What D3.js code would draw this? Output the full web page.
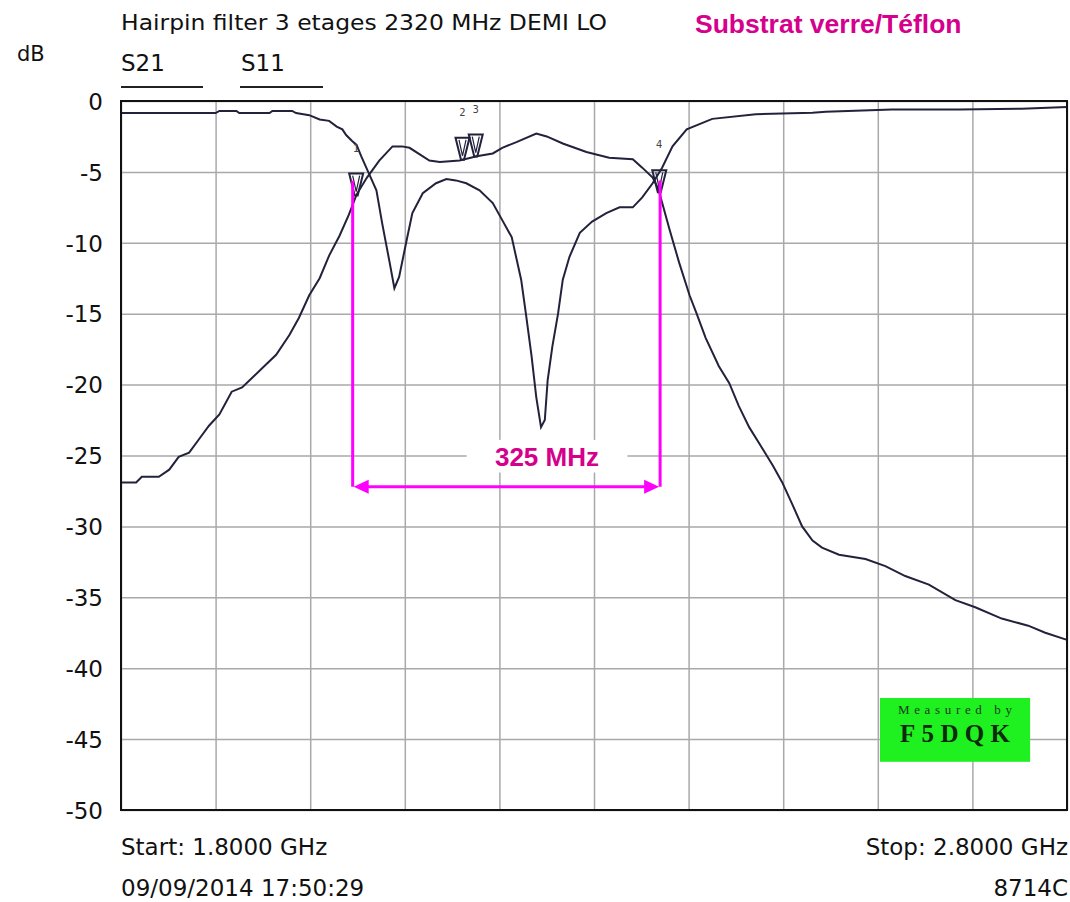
<!DOCTYPE html>
<html>
<head>
<meta charset="utf-8">
<script src="https://cdn.jsdelivr.net/npm/d3@7"></script>
<style>
  html, body { margin: 0; padding: 0; background: #fff; }
  svg { display: block; }
</style>
</head>
<body>
<script>
// Sweep: 1.8 – 2.8 GHz, 0 to -50 dB
const freqTicks = [1.8, 1.9, 2.0, 2.1, 2.2, 2.3, 2.4, 2.5, 2.6, 2.7, 2.8];
const dbTicks = [0, -5, -10, -15, -20, -25, -30, -35, -40, -45, -50];

// S21 (transmission) trace, GHz / dB
const s21Freq = [1.800, 1.816, 1.822, 1.840, 1.851, 1.861, 1.872, 1.883, 1.893, 1.904, 1.917, 1.928, 1.939, 1.953, 1.964, 1.978, 1.988, 1.999, 2.010, 2.020, 2.031, 2.041, 2.049, 2.060, 2.073, 2.087, 2.097, 2.105, 2.126, 2.137, 2.158, 2.176, 2.193, 2.203, 2.218, 2.239, 2.250, 2.267, 2.292, 2.316, 2.341, 2.351, 2.362, 2.368, 2.380, 2.390, 2.401, 2.408, 2.418, 2.432, 2.443, 2.453, 2.464, 2.478, 2.489, 2.499, 2.510, 2.520, 2.531, 2.541, 2.559, 2.587, 2.608, 2.629, 2.654, 2.682, 2.703, 2.731, 2.759, 2.777, 2.800];
const s21Db = [-26.9, -26.9, -26.5, -26.5, -26.0, -25.1, -24.8, -23.8, -22.9, -22.1, -20.5, -20.2, -19.5, -18.6, -17.9, -16.5, -15.3, -13.7, -12.5, -10.9, -9.5, -8.0, -6.6, -5.4, -4.2, -3.2, -3.2, -3.3, -4.2, -4.3, -4.2, -3.9, -3.7, -3.3, -2.9, -2.3, -2.5, -3.0, -3.6, -4.0, -4.1, -4.7, -5.4, -6.2, -9.1, -11.4, -13.7, -14.9, -16.7, -18.7, -19.9, -21.5, -23.0, -24.5, -25.7, -26.9, -28.5, -30.0, -31.0, -31.5, -32.0, -32.3, -32.8, -33.5, -34.1, -35.2, -35.7, -36.5, -37.0, -37.5, -38.0];

// S11 (reflection) trace, GHz / dB
const s11Freq = [1.800, 1.900, 1.904, 1.922, 1.925, 1.957, 1.960, 1.981, 1.985, 1.999, 2.010, 2.020, 2.028, 2.034, 2.038, 2.044, 2.049, 2.054, 2.062, 2.070, 2.076, 2.084, 2.089, 2.094, 2.102, 2.108, 2.119, 2.133, 2.144, 2.154, 2.165, 2.179, 2.193, 2.203, 2.213, 2.223, 2.228, 2.234, 2.239, 2.244, 2.248, 2.251, 2.256, 2.262, 2.267, 2.274, 2.285, 2.298, 2.313, 2.327, 2.341, 2.351, 2.362, 2.372, 2.383, 2.398, 2.425, 2.471, 2.531, 2.545, 2.615, 2.686, 2.752, 2.800];
const s11Db = [-0.85, -0.85, -0.7, -0.7, -0.85, -0.85, -0.7, -0.7, -0.85, -1.0, -1.3, -1.4, -1.8, -2.0, -2.4, -2.8, -3.1, -3.9, -5.1, -6.3, -8.6, -11.4, -13.2, -12.4, -9.8, -7.9, -6.5, -5.8, -5.5, -5.6, -5.8, -6.3, -7.2, -8.4, -9.6, -12.6, -15.0, -18.0, -20.9, -23.0, -22.5, -19.7, -17.3, -15.0, -12.6, -11.0, -9.3, -8.5, -7.9, -7.5, -7.5, -6.8, -5.8, -4.7, -3.2, -2.0, -1.26, -0.93, -0.83, -0.75, -0.6, -0.6, -0.55, -0.43];

// Markers placed on the S21 trace
const markerIds = ["1", "2", "3", "4"];
const markerFreq = [2.0486, 2.161, 2.175, 2.369];

// -3 dB bandwidth annotation
const bwStart = 2.0449;
const bwWidthMHz = 325;
const bwLabelFreq = 2.2503;

const W = 1070, H = 902;
const svg = d3.select("body").append("svg").attr("width", W).attr("height", H);

const plotL = 121, plotR = 1067, plotT = 101, plotB = 810;
const x = d3.scaleLinear().domain([1.8, 2.8]).range([plotL, plotR]);
const y = d3.scaleLinear().domain([-50, 0]).range([plotB, plotT]);

const FONT = "'DejaVu Sans', sans-serif";
const traceColor = "#22223c";
const gridColor = "#a9a9a9";

// grid: horizontal lines with dB labels
const yAxis = d3.axisLeft(y).tickValues(dbTicks).tickSize(-(plotR - plotL)).tickPadding(18)
  .tickFormat(d => String(d));
const gy = svg.append("g").attr("transform", `translate(${plotL},0)`).call(yAxis);
gy.select(".domain").remove();
gy.selectAll(".tick line").attr("stroke", gridColor).attr("stroke-width", 1.5);
gy.selectAll(".tick text").attr("font-family", FONT).attr("font-size", 23).attr("fill", "#111")
  .attr("dy", "0.36em");

// grid: vertical lines at every 100 MHz
const xAxis = d3.axisBottom(x).tickValues(freqTicks).tickSize(-(plotB - plotT)).tickFormat("");
const gx = svg.append("g").attr("transform", `translate(0,${plotB})`).call(xAxis);
gx.select(".domain").remove();
gx.selectAll(".tick line").attr("stroke", gridColor).attr("stroke-width", 1.5);

// bandwidth label box (breaks the grid line behind it)
const bwEnd = bwStart + bwWidthMHz / 1000;
svg.append("rect")
  .attr("x", x(bwLabelFreq - 0.085)).attr("y", y(-23.9))
  .attr("width", x(bwLabelFreq + 0.085) - x(bwLabelFreq - 0.085)).attr("height", y(-26.2) - y(-23.9))
  .attr("fill", "#fff");

// "Measured by" badge
const badge = svg.append("g");
badge.append("rect")
  .attr("x", x(2.6023)).attr("y", y(-42.1))
  .attr("width", x(2.7610) - x(2.6023)).attr("height", y(-46.6) - y(-42.1))
  .attr("fill", "#1ff01f");
badge.append("text").attr("x", x(2.6816)).attr("y", y(-43.2))
  .attr("text-anchor", "middle").attr("font-family", "'Liberation Serif', serif")
  .attr("font-size", 13).attr("fill", "#1a3a1a")
  .attr("textLength", 114).attr("lengthAdjust", "spacing")
  .text("Measured by");
badge.append("text").attr("x", x(2.6816)).attr("y", y(-45.2))
  .attr("text-anchor", "middle").attr("font-family", "'Liberation Serif', serif")
  .attr("font-weight", "bold").attr("font-size", 25).attr("fill", "#0d2a0d")
  .attr("textLength", 110).attr("lengthAdjust", "spacing")
  .text("F5DQK");

// traces
const line = d3.line().x(d => x(d[0])).y(d => y(d[1]));
const s21 = s21Freq.map((f, i) => [f, s21Db[i]]);
const s11 = s11Freq.map((f, i) => [f, s11Db[i]]);
svg.append("path").datum(s11).attr("d", line)
  .attr("fill", "none").attr("stroke", traceColor).attr("stroke-width", 2);
svg.append("path").datum(s21).attr("d", line)
  .attr("fill", "none").attr("stroke", traceColor).attr("stroke-width", 2);

// markers on S21
const s21At = f => {
  const i = d3.bisectLeft(s21Freq, f);
  if (i <= 0) return s21Db[0];
  const f0 = s21Freq[i - 1], f1 = s21Freq[i];
  const t = (f - f0) / (f1 - f0);
  return s21Db[i - 1] + t * (s21Db[i] - s21Db[i - 1]);
};
markerIds.forEach((id, i) => {
  const mx = x(markerFreq[i]), my = y(s21At(markerFreq[i]));
  const g = svg.append("g").attr("transform", `translate(${mx},${my})`);
  g.append("path").attr("d", "M-7,-22 L7,-22 L1.5,0 L-1.5,0 Z")
    .attr("fill", "none").attr("stroke", traceColor).attr("stroke-width", 2);
  g.append("path").attr("d", "M-3.5,-20 L0,-4 L3.5,-20")
    .attr("fill", "none").attr("stroke", traceColor).attr("stroke-width", 1.2);
  g.append("text").attr("x", 0).attr("y", -44).attr("text-anchor", "middle")
    .attr("font-family", FONT).attr("font-size", 10).attr("fill", "#444")
    .text(id);
});

// frame
svg.append("rect").attr("x", plotL).attr("y", plotT)
  .attr("width", plotR - plotL).attr("height", plotB - plotT)
  .attr("fill", "none").attr("stroke", "#111").attr("stroke-width", 2);

// bandwidth annotation
const mag = "#ff00ff";
const arrowDb = -27.2, lineTopDb = -5.6;
const ax0 = x(bwStart), ax1 = x(bwEnd), ay = y(arrowDb);
svg.append("line").attr("x1", ax0).attr("x2", ax0).attr("y1", y(lineTopDb)).attr("y2", ay)
  .attr("stroke", mag).attr("stroke-width", 3);
svg.append("line").attr("x1", ax1).attr("x2", ax1).attr("y1", y(lineTopDb)).attr("y2", ay)
  .attr("stroke", mag).attr("stroke-width", 3);
svg.append("line").attr("x1", ax0 + 6).attr("x2", ax1 - 6).attr("y1", ay).attr("y2", ay)
  .attr("stroke", mag).attr("stroke-width", 3);
svg.append("path").attr("d", `M${ax0 + 1},${ay} L${ax0 + 16},${ay - 7} L${ax0 + 16},${ay + 7} Z`).attr("fill", mag);
svg.append("path").attr("d", `M${ax1 - 1},${ay} L${ax1 - 16},${ay - 7} L${ax1 - 16},${ay + 7} Z`).attr("fill", mag);
svg.append("text").attr("x", x(bwLabelFreq)).attr("y", y(-25) + 10)
  .attr("text-anchor", "middle").attr("font-family", "'Liberation Sans', Arial, sans-serif")
  .attr("font-weight", "bold").attr("font-size", 26).attr("fill", "#d5008c")
  .text(`${bwWidthMHz} MHz`);

// headings and legend
const txt = (s, tx, ty, opts = {}) => {
  const t = svg.append("text").attr("x", tx).attr("y", ty)
    .attr("font-family", opts.family || FONT).attr("font-size", opts.size || 23)
    .attr("font-weight", opts.weight || "normal")
    .attr("fill", opts.fill || "#111").attr("text-anchor", opts.anchor || "start").text(s);
  if (opts.len) t.attr("textLength", opts.len).attr("lengthAdjust", "spacingAndGlyphs");
  return t;
};

txt("Hairpin filter 3 etages 2320 MHz DEMI LO", 121, 30, { size: 22, len: 486 });
txt("Substrat verre/Téflon", 695, 33, { family: "'Liberation Sans', Arial, sans-serif", weight: "bold", size: 26.5, fill: "#d5008c" });
txt("dB", 17, 61, { size: 21 });
txt("S21", 121, 71);
txt("S11", 241, 71);
svg.append("line").attr("x1", 121).attr("x2", 203).attr("y1", 87).attr("y2", 87).attr("stroke", "#222").attr("stroke-width", 2);
svg.append("line").attr("x1", 240).attr("x2", 323).attr("y1", 87).attr("y2", 87).attr("stroke", "#222").attr("stroke-width", 2);

txt("Start: 1.8000 GHz", 121, 855);
txt("09/09/2014 17:50:29", 121, 896);
txt("Stop: 2.8000 GHz", 1068, 855, { anchor: "end" });
txt("8714C", 1068, 896, { anchor: "end" });
</script>
</body>
</html>
